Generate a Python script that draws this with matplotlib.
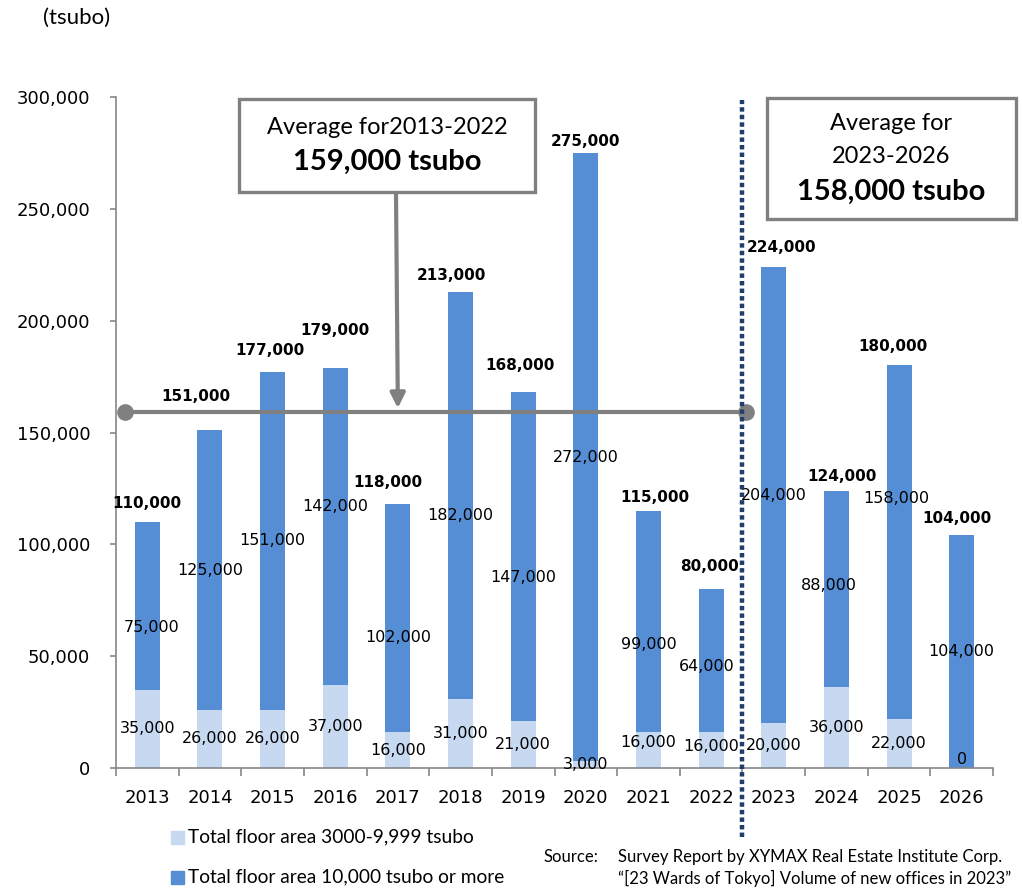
import matplotlib
matplotlib.use('Agg')
import matplotlib.pyplot as plt
from matplotlib.patches import Rectangle
from matplotlib.ticker import FuncFormatter, FixedLocator
import numpy as np

# supply of new office space, 23 wards of Tokyo (tsubo)
years = ['2013', '2014', '2015', '2016', '2017', '2018', '2019',
         '2020', '2021', '2022', '2023', '2024', '2025', '2026']
small = [35000, 26000, 26000, 37000, 16000, 31000, 21000,
         3000, 16000, 16000, 20000, 36000, 22000, 0]
large = [75000, 125000, 151000, 142000, 102000, 182000, 147000,
         272000, 99000, 64000, 204000, 88000, 158000, 104000]
avg_past = 159000
avg_future = 158000

# small hand nudges for the value labels (pixels)
tot_dx = [0, -14, -3, 0, -10, -9, -3, 0, 6, -2, 8, 6, -6, -5]
tot_dy = [18, 34, 22, 37, 22, 16, 27, 11, 13, 23, 19, 14, 19, 17]
big_dx = [4, 0, 0, 0, 0, 0, 0, 0, 0, -4, 0, -8, -3, 0]
big_dy = [-22, 0, 0, 20, -19, -20, -21, 0, -23, -6, 0, 4, 44, 0]
sml_dy = [0, 0, 0, 0, 0, 0, 0, 0, 8, 4, 0, 0, 0, 9]

LIGHT = '#C6D9F1'
DARK = '#558ED5'
GRAY = '#808080'
NAVY = '#233D6B'
TXT = 'Lato'
NUM = 'DejaVu Sans'

W, H = 1022, 889
fig = plt.figure(figsize=(W / 100, H / 100), dpi=100)


def fx(px):
    return px / W


def fy(py):
    return 1 - py / H


ax = fig.add_axes([fx(116), fy(768), fx(993) - fx(116), fy(97) - fy(768)])

x = np.arange(len(years))
small = np.array(small)
large = np.array(large)
total = small + large

ax.bar(x, small, width=0.4, color=LIGHT, edgecolor='none', zorder=2)
ax.bar(x, large, width=0.4, bottom=small, color=DARK, edgecolor='none', zorder=2)

pt = 0.72
for i in range(len(x)):
    ax.annotate(f'{total[i]:,}', (x[i], total[i]),
                xytext=(tot_dx[i] * pt, tot_dy[i] * pt), textcoords='offset points',
                ha='center', va='center', fontsize=11, fontweight='bold',
                family=NUM, zorder=5)
    ax.annotate(f'{large[i]:,}', (x[i], small[i] + large[i] / 2),
                xytext=(big_dx[i] * pt, big_dy[i] * pt), textcoords='offset points',
                ha='center', va='center', fontsize=11.5, family=NUM, zorder=5)
    ax.annotate(f'{small[i]:,}', (x[i], small[i] / 2),
                xytext=(0, sml_dy[i] * pt), textcoords='offset points',
                ha='center', va='center', fontsize=11.5, family=NUM, zorder=5)

ax.set_xlim(-0.5, 13.5)
ax.set_ylim(0, 300000)
ax.set_yticks(np.arange(0, 300001, 50000))
ax.yaxis.set_major_formatter(FuncFormatter(lambda v, p: f'{int(v):,}'))
ax.set_xticks(x)
ax.set_xticklabels(years)
ax.xaxis.set_minor_locator(FixedLocator(np.arange(-0.5, 14, 1)))

for s in ['top', 'right']:
    ax.spines[s].set_visible(False)
for s in ['left', 'bottom']:
    ax.spines[s].set_color('#868686')
    ax.spines[s].set_linewidth(1.2)

ax.tick_params(axis='y', length=4.5, width=1.2, color='#868686', pad=14,
               labelsize=13)
ax.tick_params(axis='x', which='major', length=0, pad=15, labelsize=13)
ax.tick_params(axis='x', which='minor', length=6, width=1.2, color='#868686')
for lab in ax.get_xticklabels() + ax.get_yticklabels():
    lab.set_family(NUM)

# average line 2013-2022
ax.plot([-0.36, 9.55], [avg_past, avg_past], color=GRAY, lw=3,
        marker='o', markersize=11, zorder=4, clip_on=False)

# divider between actual and forecast years
ax.axvline(9.5, ymin=-0.103, ymax=0.995, color=NAVY, lw=3.2,
           linestyle=(0, (1.0, 0.7)), dash_capstyle='butt', clip_on=False, zorder=6)

# annotation boxes
fig.patches.append(Rectangle((fx(239), fy(192)), fx(535) - fx(239), fy(99) - fy(192),
                             transform=fig.transFigure, fill=True, facecolor='white',
                             edgecolor=GRAY, lw=2.4, zorder=3))
fig.text(fx(387), fy(127), 'Average for2013-2022', ha='center', va='center',
         fontsize=17, family=TXT)
fig.text(fx(387), fy(162), f'{avg_past:,} tsubo', ha='center', va='center',
         fontsize=21, fontweight='bold', family=TXT)
ax.annotate('', xy=(4.0, avg_past), xycoords='data',
            xytext=(fx(396), fy(193)), textcoords='figure fraction',
            arrowprops=dict(arrowstyle='-|>', color=GRAY, lw=3,
                            mutation_scale=22, shrinkA=0, shrinkB=3), zorder=4)

fig.patches.append(Rectangle((fx(767), fy(219)), fx(1016) - fx(767), fy(98) - fy(219),
                             transform=fig.transFigure, fill=True, facecolor='white',
                             edgecolor=GRAY, lw=2.4, zorder=3))
fig.text(fx(891), fy(123), 'Average for', ha='center', va='center',
         fontsize=17, family=TXT)
fig.text(fx(891), fy(156), '2023-2026', ha='center', va='center',
         fontsize=17, family=TXT)
fig.text(fx(891), fy(192), f'{avg_future:,} tsubo', ha='center', va='center',
         fontsize=21, fontweight='bold', family=TXT)

fig.text(fx(77), fy(18), '(tsubo)', ha='center', va='center', fontsize=16, family=TXT)

# legend, drawn by hand
fig.patches.append(Rectangle((fx(171), fy(844)), fx(13), 13 / H,
                             transform=fig.transFigure, color=LIGHT))
fig.text(fx(188), fy(837), 'Total floor area 3000-9,999 tsubo', va='center',
         fontsize=13.8, family=TXT)
fig.patches.append(Rectangle((fx(171), fy(884)), fx(13), 13 / H,
                             transform=fig.transFigure, color=DARK))
fig.text(fx(188), fy(877), 'Total floor area 10,000 tsubo or more', va='center',
         fontsize=13.8, family=TXT)

fig.text(fx(544), fy(857), 'Source:', va='center', fontsize=12, family=TXT)
fig.text(fx(618), fy(857), 'Survey Report by XYMAX Real Estate Institute Corp.',
         va='center', fontsize=12, family=TXT)
fig.text(fx(618), fy(878), '\u201c[23 Wards of Tokyo] Volume of new offices in 2023\u201d',
         va='center', fontsize=12, family=TXT)

fig.savefig('out.png', dpi=100)
